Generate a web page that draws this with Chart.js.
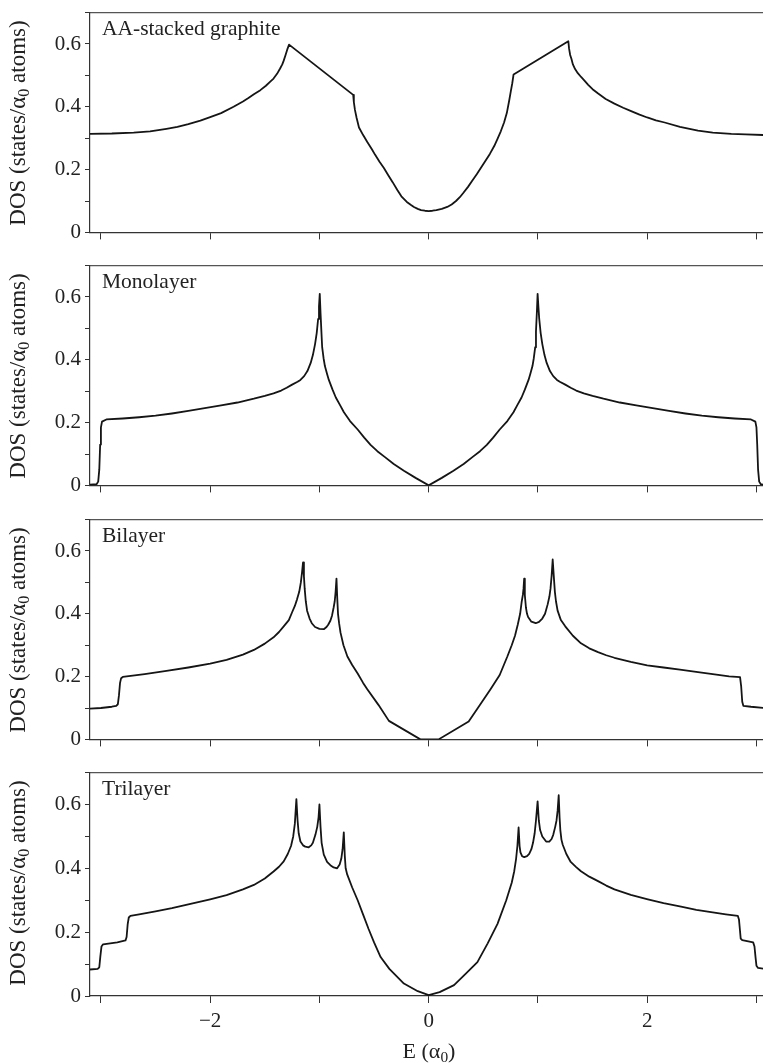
<!DOCTYPE html>
<html>
<head>
<meta charset="utf-8">
<script src="https://cdn.jsdelivr.net/npm/chart.js@4.4.1/dist/chart.umd.min.js"></script>
<style>
    html, body { margin: 0; padding: 0; background: #fff; }
    body { width: 763px; height: 1063px; position: relative; overflow: hidden; font-family: "Liberation Serif", "DejaVu Serif", serif; color: #222; }
    canvas { position: absolute; left: 0; }
    .tag { position: absolute; left: 102px; font-size: 21.5px; line-height: 21px; white-space: nowrap; }
    .ytitle { position: absolute; width: 226px; height: 26px; line-height: 26px; font-size: 23px; text-align: center; white-space: nowrap; transform: rotate(-90deg); }
    .xtitle { position: absolute; left: 329px; width: 200px; top: 1038px; font-size: 22px; line-height: 26px; text-align: center; }
    sub { font-size: 0.7em; vertical-align: -0.25em; line-height: 0; }
</style>
</head>
<body>
<canvas id="p0"></canvas>
<canvas id="p1"></canvas>
<canvas id="p2"></canvas>
<canvas id="p3"></canvas>
<div id="texts"></div>
<div class="xtitle">E (α<sub>0</sub>)</div>
<script>
// --- data (E in units of alpha0, DOS in states/alpha0 atoms) ---
var PANEL_NAMES = ['AA-stacked graphite', 'Monolayer', 'Bilayer', 'Trilayer'];

var aaE = [-3.10, -2.9, -2.7, -2.55, -2.4, -2.3, -2.2, -2.09, -2.0, -1.9, -1.786, -1.7, -1.65, -1.6, -1.541,
    -1.49, -1.45, -1.42, -1.388, -1.36, -1.34, -1.327, -1.31, -1.295, -1.278,
    -0.691, -0.685, -0.675, -0.66, -0.638, -0.6, -0.562, -0.52, -0.49, -0.45, -0.41, -0.37, -0.33, -0.287,
    -0.25, -0.2, -0.165, -0.135, -0.1, -0.07, -0.035, 0,
    0.035, 0.07, 0.12, 0.17, 0.21, 0.25, 0.285, 0.32, 0.36, 0.40, 0.44, 0.477, 0.52, 0.56, 0.6, 0.63,
    0.66, 0.69, 0.715, 0.737, 0.752, 0.765, 0.777,
    1.278, 1.285, 1.295, 1.307, 1.32, 1.34, 1.365, 1.395, 1.43, 1.46, 1.5, 1.548, 1.62, 1.7, 1.78, 1.853,
    1.93, 2.0, 2.08, 2.16, 2.3, 2.465, 2.6, 2.77, 2.9, 3.07];
var aaDos = [0.314, 0.315, 0.318, 0.322, 0.33, 0.336, 0.345, 0.356, 0.367, 0.38, 0.40, 0.417, 0.428, 0.44, 0.453,
    0.467, 0.48, 0.49, 0.505, 0.522, 0.535, 0.547, 0.565, 0.582, 0.598,
    0.438, 0.415, 0.39, 0.365, 0.334, 0.31, 0.288, 0.265, 0.247, 0.225, 0.205, 0.182, 0.16, 0.135,
    0.115, 0.097, 0.088, 0.081, 0.075, 0.071, 0.069, 0.068,
    0.069, 0.071, 0.075, 0.081, 0.089, 0.10, 0.112, 0.127, 0.145, 0.165, 0.185, 0.205, 0.228, 0.25, 0.275, 0.298,
    0.322, 0.35, 0.38, 0.42, 0.45, 0.475, 0.503,
    0.609, 0.585, 0.565, 0.552, 0.535, 0.52, 0.507, 0.495, 0.482, 0.47, 0.456, 0.443, 0.425, 0.41, 0.397, 0.386,
    0.375, 0.366, 0.357, 0.35, 0.336, 0.324, 0.318, 0.314, 0.312, 0.31];

var monoE = [-3.10, -3.04, -3.025, -3.015, -3.007, -3.0, -2.99, -2.95, -2.8, -2.65, -2.5, -2.35, -2.2, -2.05,
    -1.9, -1.75, -1.6, -1.5, -1.42, -1.35, -1.3, -1.25, -1.2, -1.174, -1.14, -1.11, -1.08, -1.06, -1.04,
    -1.025, -1.012, -1.004, -0.997,
    -0.99, -0.982, -0.975, -0.962, -0.95, -0.93, -0.914, -0.88, -0.85, -0.81, -0.776, -0.72, -0.65, -0.59,
    -0.532, -0.47, -0.4, -0.32, -0.227, -0.12, 0,
    0.12, 0.227, 0.32, 0.4, 0.47, 0.532, 0.59, 0.65, 0.72, 0.776, 0.81, 0.85, 0.88, 0.914, 0.93, 0.95,
    0.962, 0.975, 0.982, 0.99, 0.997, 1.004, 1.012, 1.025, 1.04, 1.06, 1.08, 1.11, 1.14, 1.174, 1.2,
    1.25, 1.3, 1.35, 1.42, 1.5, 1.6, 1.75, 1.9, 2.05, 2.2, 2.35, 2.5, 2.65, 2.8, 2.95, 2.99, 3.0, 3.007,
    3.015, 3.025, 3.04, 3.07];
var monoDos = [0.002, 0.004, 0.012, 0.05, 0.13, 0.185, 0.203, 0.21, 0.213, 0.217, 0.222, 0.229, 0.237, 0.246,
    0.255, 0.264, 0.276, 0.285, 0.293, 0.302, 0.311, 0.321, 0.33, 0.336, 0.348, 0.364, 0.39, 0.415, 0.45,
    0.485, 0.53, 0.57, 0.61,
    0.55, 0.49, 0.44, 0.405, 0.38, 0.355, 0.336, 0.305, 0.28, 0.255, 0.233, 0.205, 0.178, 0.152,
    0.129, 0.109, 0.09, 0.068, 0.047, 0.024, 0.0,
    0.024, 0.047, 0.068, 0.09, 0.109, 0.129, 0.152, 0.178, 0.205, 0.233, 0.255, 0.28, 0.305, 0.336, 0.355, 0.38,
    0.405, 0.44, 0.49, 0.55, 0.61, 0.57, 0.53, 0.485, 0.45, 0.415, 0.39, 0.364, 0.348, 0.336, 0.33,
    0.321, 0.311, 0.302, 0.293, 0.285, 0.276, 0.264, 0.255, 0.246, 0.237, 0.229, 0.222, 0.217, 0.213, 0.21, 0.203, 0.185, 0.13,
    0.05, 0.012, 0.004, 0.002];

var biE = [-3.10, -3.0, -2.9, -2.86, -2.845, -2.835, -2.825, -2.815, -2.80, -2.6, -2.4, -2.2, -2.0, -1.85,
    -1.7, -1.6, -1.5, -1.42, -1.37, -1.327, -1.28, -1.25, -1.225, -1.205, -1.185, -1.17, -1.16, -1.15, -1.142,
    -1.135, -1.125, -1.113, -1.09, -1.07, -1.04, -1.0, -0.96, -0.935, -0.92, -0.9, -0.885, -0.87, -0.86,
    -0.852, -0.844, -0.837, -0.83, -0.82, -0.807, -0.78, -0.744, -0.7, -0.65, -0.6, -0.562, -0.46, -0.364,
    -0.076,
    0.09, 0.366, 0.45, 0.566, 0.65, 0.72, 0.76, 0.79, 0.815, 0.837, 0.852, 0.862, 0.868, 0.874, 0.88, 0.89,
    0.9, 0.91, 0.94, 0.98, 1.01, 1.04, 1.065, 1.089, 1.105, 1.115, 1.125, 1.135, 1.145, 1.155, 1.165, 1.18,
    1.21, 1.25, 1.32, 1.394, 1.47, 1.55, 1.625, 1.70, 1.85, 2.0, 2.15, 2.3, 2.465, 2.6, 2.75, 2.85, 2.86,
    2.87, 2.88, 2.95, 3.07];
var biDos = [0.098, 0.100, 0.104, 0.107, 0.112, 0.14, 0.18, 0.195, 0.199, 0.208, 0.218, 0.229, 0.241, 0.253,
    0.27, 0.285, 0.305, 0.325, 0.342, 0.36, 0.38, 0.405, 0.425, 0.446, 0.47, 0.50, 0.53, 0.564, 0.52,
    0.48, 0.44, 0.41, 0.385, 0.37, 0.358, 0.352, 0.351, 0.358, 0.365, 0.378, 0.394, 0.42, 0.44,
    0.47, 0.512, 0.45, 0.40, 0.37, 0.34, 0.30, 0.264, 0.237, 0.21, 0.18, 0.16, 0.11, 0.059,
    0.0,
    0.0, 0.057, 0.10, 0.16, 0.205, 0.264, 0.30, 0.33, 0.365, 0.40, 0.44, 0.46, 0.48, 0.512, 0.46, 0.42,
    0.40, 0.39, 0.375, 0.37, 0.374, 0.385, 0.40, 0.43, 0.455, 0.48, 0.52, 0.573, 0.52, 0.47, 0.44, 0.41,
    0.38, 0.36, 0.33, 0.306, 0.29, 0.278, 0.268, 0.26, 0.247, 0.236, 0.229, 0.222, 0.214, 0.208, 0.201, 0.198, 0.17,
    0.12, 0.107, 0.104, 0.10];

var triE = [-3.10, -3.03, -3.015, -3.005, -2.995, -2.98, -2.85, -2.775, -2.765, -2.755, -2.745, -2.73, -2.65,
    -2.5, -2.35, -2.2, -2.0, -1.85, -1.7, -1.6, -1.5, -1.42, -1.37, -1.327, -1.29, -1.26, -1.24, -1.225,
    -1.211, -1.2, -1.19, -1.174, -1.15, -1.13, -1.098, -1.075, -1.06, -1.037, -1.02, -1.008, -1.0, -0.99,
    -0.98, -0.96, -0.93, -0.9, -0.87, -0.838, -0.815, -0.8, -0.788, -0.777, -0.768, -0.76, -0.746, -0.70,
    -0.65, -0.6, -0.55, -0.5, -0.44, -0.36, -0.227, -0.1, 0,
    0.1, 0.232, 0.34, 0.446, 0.54, 0.63, 0.71, 0.76, 0.783, 0.8, 0.812, 0.823, 0.832, 0.84, 0.855, 0.875,
    0.9, 0.92, 0.94, 0.955, 0.97, 0.982, 0.997, 1.008, 1.02, 1.04, 1.075, 1.104, 1.125, 1.14, 1.158, 1.17,
    1.18, 1.19, 1.198, 1.205, 1.215, 1.227, 1.26, 1.3, 1.35, 1.394, 1.47, 1.55, 1.625, 1.70, 1.85, 2.006,
    2.15, 2.31, 2.45, 2.6, 2.72, 2.83, 2.84, 2.848, 2.856, 2.87, 2.97, 2.982, 2.992, 3.0, 3.015, 3.07];
var triDos = [0.083, 0.085, 0.09, 0.125, 0.155, 0.162, 0.168, 0.174, 0.185, 0.225, 0.246, 0.251, 0.256,
    0.265, 0.275, 0.287, 0.303, 0.316, 0.334, 0.348, 0.368, 0.39, 0.405, 0.422, 0.445, 0.47, 0.50, 0.54,
    0.617, 0.55, 0.51, 0.484, 0.472, 0.468, 0.466, 0.472, 0.48, 0.505, 0.53, 0.56, 0.60, 0.53,
    0.48, 0.443, 0.42, 0.41, 0.403, 0.40, 0.412, 0.43, 0.46, 0.513, 0.44, 0.40, 0.381, 0.34,
    0.30, 0.255, 0.21, 0.168, 0.122, 0.085, 0.039, 0.015, 0.003,
    0.012, 0.034, 0.07, 0.106, 0.165, 0.226, 0.30, 0.355, 0.391, 0.43, 0.47, 0.528, 0.47, 0.45, 0.438, 0.435,
    0.438, 0.445, 0.46, 0.48, 0.51, 0.55, 0.61, 0.55, 0.52, 0.50, 0.484, 0.484, 0.492, 0.505, 0.53, 0.55,
    0.58, 0.629, 0.56, 0.52, 0.49, 0.474, 0.445, 0.42, 0.404, 0.391, 0.374, 0.36, 0.346, 0.334, 0.317, 0.303,
    0.291, 0.28, 0.27, 0.262, 0.256, 0.251, 0.24, 0.21, 0.18, 0.175, 0.168, 0.155, 0.12, 0.095, 0.088, 0.085];

var X_TICKS = [-3, -2, -1, 0, 1, 2, 3];
var X_TICK_LABELS = ['', '\u22122', '', '0', '', '2', ''];
var Y_TICKS = [0, 0.1, 0.2, 0.3, 0.4, 0.5, 0.6, 0.7];
var Y_TICK_LABELS = ['0', '', '0.2', '', '0.4', '', '0.6', ''];

var SERIES = [[aaE, aaDos], [monoE, monoDos], [biE, biDos], [triE, triDos]];
var PANEL_TOPS = [10, 263, 517, 770];
var PANEL_H = 226;
var PAD_TOP = 14;

var AXIS_COLOR = '#333';
var FONT = { family: '"Liberation Serif", "DejaVu Serif", serif', size: 21 };

function makePanel(i) {
    var isBottom = i === 3;
    var canvas = document.getElementById('p' + i);
    var bottomSpace = isBottom ? 1063 - (PANEL_TOPS[i] + PANEL_H) : 13;
    var h = PAD_TOP + PANEL_H + bottomSpace;
    canvas.style.top = (PANEL_TOPS[i] - PAD_TOP) + 'px';
    canvas.style.width = '763px';
    canvas.style.height = h + 'px';
    canvas.width = 763;
    canvas.height = h;

    var xs = SERIES[i][0], ys = SERIES[i][1];
    var pts = xs.map(function (x, k) { return { x: x, y: ys[k] }; });

    new Chart(canvas.getContext('2d'), {
        type: 'scatter',
        data: {
            datasets: [{
                data: pts,
                showLine: true,
                borderColor: '#151515',
                borderWidth: 1.8,
                borderJoinStyle: 'round',
                pointRadius: 0,
                tension: 0,
                fill: false
            }]
        },
        options: {
            responsive: false,
            animation: false,
            layout: { padding: { top: PAD_TOP, left: 0, right: 0, bottom: 0 } },
            plugins: { legend: { display: false }, tooltip: { enabled: false } },
            scales: {
                x: {
                    type: 'linear',
                    position: 'bottom',
                    min: -3.1,
                    max: 3.06,
                    afterBuildTicks: function (s) { s.ticks = X_TICKS.map(function (v) { return { value: v }; }); },
                    afterFit: function (s) { s.height = bottomSpace; },
                    ticks: {
                        display: isBottom,
                        autoSkip: false,
                        maxRotation: 0,
                        padding: 6,
                        color: '#222',
                        font: FONT,
                        callback: function (v, idx) { return X_TICK_LABELS[idx]; }
                    },
                    grid: { drawOnChartArea: false, drawTicks: true, tickLength: 7, tickColor: AXIS_COLOR, tickWidth: 1 },
                    border: { color: AXIS_COLOR, width: 1.2 }
                },
                xTop: {
                    type: 'linear',
                    position: 'top',
                    min: -3.1,
                    max: 3.06,
                    afterFit: function (s) { s.height = 0; },
                    ticks: { display: false },
                    grid: { display: false, drawTicks: false },
                    border: { color: '#555', width: 1.2 }
                },
                y: {
                    min: 0,
                    max: 0.7,
                    afterBuildTicks: function (s) { s.ticks = Y_TICKS.map(function (v) { return { value: v }; }); },
                    afterFit: function (s) { s.width = 90; },
                    ticks: {
                        padding: 4,
                        color: '#222',
                        font: FONT,
                        callback: function (v, idx) { return Y_TICK_LABELS[idx]; }
                    },
                    grid: { drawOnChartArea: false, tickLength: 5, tickColor: AXIS_COLOR, tickWidth: 1 },
                    border: { color: AXIS_COLOR, width: 1.2 }
                }
            }
        }
    });

    // panel tag and y title as html text
    var wrap = document.getElementById('texts');
    var tag = document.createElement('div');
    tag.className = 'tag';
    tag.style.top = (PANEL_TOPS[i] + 8) + 'px';
    tag.textContent = PANEL_NAMES[i];
    wrap.appendChild(tag);

    var yt = document.createElement('div');
    yt.className = 'ytitle';
    var cy = PANEL_TOPS[i] + PANEL_H / 2;
    yt.style.left = (18 - PANEL_H / 2) + 'px';
    yt.style.top = (cy - 13) + 'px';
    yt.innerHTML = 'DOS (states/α<sub>0</sub> atoms)';
    wrap.appendChild(yt);
}

for (var i = 0; i < 4; i++) {
    makePanel(i);
}
</script>
</body>
</html>
